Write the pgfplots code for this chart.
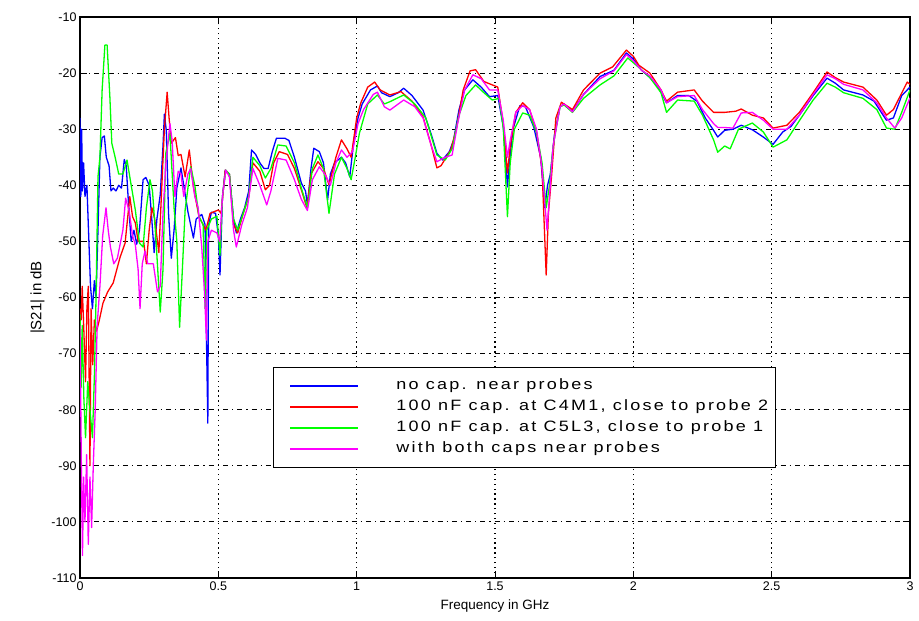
\documentclass[border=0pt]{standalone}
\usepackage{pgfplots}
\pgfplotsset{compat=1.18}
\usepackage{pgfplotstable}
\usepackage{fontspec}
\setmainfont{Liberation Sans}
\newfontfamily\legendfont[FakeStretch=1.2, LetterSpace=15]{Liberation Sans}

\definecolor{cblue}{rgb}{0,0,1}
\definecolor{cred}{rgb}{1,0,0}
\definecolor{cgreen}{rgb}{0,1,0}
\definecolor{cmagenta}{rgb}{1,0,1}

% |S21| measurements, frequency in GHz, magnitude in dB
\pgfplotstableread{
f s
0.000 -28
0.003 -42
0.006 -30
0.009 -41
0.013 -36
0.018 -42
0.025 -40
0.030 -47
0.038 -58
0.045 -62
0.052 -57
0.058 -60
0.065 -48
0.072 -35
0.080 -31.5
0.088 -31.2
0.095 -35
0.105 -36.5
0.112 -41
0.120 -40.5
0.130 -41
0.140 -40
0.150 -40.5
0.160 -35.4
0.167 -36.5
0.175 -43
0.185 -50
0.195 -48
0.205 -50.5
0.215 -48
0.228 -39
0.238 -38.6
0.250 -40
0.258 -45
0.268 -52
0.278 -46
0.290 -41.7
0.300 -33
0.305 -27.3
0.312 -30.3
0.320 -45
0.330 -53
0.340 -48
0.350 -40.5
0.365 -36.9
0.375 -40
0.390 -44.7
0.410 -49.4
0.420 -46
0.440 -45.2
0.452 -47
0.457 -67
0.462 -82.4
0.465 -47
0.475 -44.8
0.490 -45
0.500 -49
0.506 -56
0.515 -42
0.525 -37.3
0.540 -38
0.555 -46
0.565 -48.5
0.580 -46
0.595 -44
0.610 -41
0.620 -33.7
0.635 -34.5
0.650 -36
0.665 -37
0.680 -37
0.695 -34
0.710 -31.6
0.740 -31.6
0.755 -32
0.775 -35
0.800 -39.6
0.815 -41
0.822 -43.5
0.835 -37
0.845 -33.4
0.865 -34
0.880 -36
0.895 -42.6
0.905 -38
0.920 -36
0.945 -35
0.960 -36
0.975 -38.5
0.990 -32
1.005 -28
1.020 -25.5
1.050 -23
1.075 -22.3
1.090 -23.5
1.120 -24.2
1.150 -23.5
1.170 -22.7
1.200 -24
1.240 -26.6
1.270 -31
1.290 -34.3
1.310 -35.5
1.335 -34
1.350 -32
1.370 -26.5
1.390 -23
1.420 -21.2
1.450 -22.5
1.480 -24.2
1.510 -24
1.530 -29.6
1.545 -40.3
1.552 -36
1.565 -30
1.590 -25.8
1.610 -26
1.640 -29.6
1.665 -35
1.680 -44
1.690 -40
1.700 -38
1.715 -31
1.735 -26
1.750 -25.5
1.780 -26.8
1.820 -23.8
1.880 -20.6
1.930 -19.5
1.975 -16.4
2.000 -17.5
2.030 -19.5
2.060 -20.8
2.090 -22.5
2.120 -25.3
2.160 -24
2.200 -24
2.230 -25
2.260 -28
2.290 -30.2
2.305 -31.4
2.330 -30.2
2.360 -30
2.390 -29.3
2.430 -30.1
2.470 -31.4
2.505 -32.7
2.540 -30.5
2.570 -29.5
2.600 -27.5
2.650 -24
2.700 -20.9
2.730 -21.8
2.760 -23
2.830 -23.9
2.870 -25
2.900 -27.3
2.915 -28.4
2.940 -28
2.970 -24
3.000 -22.5
}\nocap

\pgfplotstableread{
f s
0.000 -62
0.004 -64
0.008 -58
0.014 -66
0.020 -75
0.025 -62
0.030 -58
0.036 -90
0.040 -62
0.046 -72
0.052 -64
0.060 -66
0.070 -64
0.083 -61
0.100 -59
0.120 -57.4
0.145 -52.8
0.163 -50.3
0.180 -42
0.190 -45.6
0.200 -46.7
0.210 -50
0.230 -50
0.240 -54
0.250 -48
0.260 -44
0.270 -46
0.285 -52
0.295 -41
0.305 -30
0.315 -23.4
0.322 -28
0.330 -32.5
0.345 -31.5
0.355 -34.7
0.365 -34.5
0.380 -38.5
0.395 -33.7
0.410 -40.3
0.430 -45.6
0.445 -47
0.455 -48
0.470 -45
0.500 -44.4
0.510 -45
0.525 -37.3
0.540 -38
0.555 -47
0.570 -48.5
0.590 -45
0.610 -42
0.625 -36
0.650 -37.5
0.670 -40.8
0.685 -40
0.700 -36
0.720 -34
0.750 -34.5
0.775 -37
0.800 -40.8
0.820 -44
0.835 -38
0.860 -35.8
0.880 -37
0.900 -39.9
0.925 -35
0.945 -31.9
0.965 -33.5
0.980 -35
1.000 -28
1.015 -25.3
1.040 -22.5
1.065 -21.6
1.085 -23
1.120 -23.9
1.160 -23.3
1.200 -25
1.240 -27.8
1.270 -33
1.290 -36.9
1.305 -36.5
1.340 -33.7
1.360 -30
1.385 -23
1.410 -19.6
1.430 -19.4
1.460 -21.5
1.490 -22.1
1.510 -22.5
1.530 -29
1.545 -37.8
1.555 -33
1.575 -27
1.600 -25.3
1.625 -26.5
1.650 -30.5
1.670 -37
1.685 -56
1.693 -45
1.705 -38
1.720 -28
1.740 -25.2
1.780 -26.5
1.820 -23
1.880 -20
1.925 -18.9
1.975 -15.9
2.000 -17
2.020 -18.6
2.060 -20
2.100 -23
2.120 -25
2.160 -23.4
2.220 -23
2.250 -25
2.290 -27
2.330 -27
2.370 -26.8
2.390 -26.4
2.430 -27.5
2.470 -28
2.505 -29.8
2.555 -29.3
2.600 -27
2.650 -23.5
2.700 -19.8
2.730 -20.8
2.760 -21.6
2.830 -22.5
2.880 -24.8
2.915 -27.5
2.940 -26.5
2.990 -21.6
3.000 -22
}\capfour

\pgfplotstableread{
f s
0.000 -63
0.004 -76
0.008 -65
0.014 -78
0.020 -85
0.028 -75
0.036 -80
0.045 -85
0.052 -74
0.058 -60
0.065 -38.5
0.072 -35
0.080 -23
0.090 -15
0.098 -15
0.108 -24.3
0.115 -32.5
0.127 -35
0.140 -38
0.155 -38
0.170 -35.5
0.180 -38.5
0.200 -44.4
0.215 -50.3
0.228 -51
0.240 -44
0.253 -39
0.262 -41
0.275 -50
0.290 -62.6
0.300 -55
0.310 -34.3
0.325 -30.7
0.340 -44
0.350 -50
0.360 -65.3
0.370 -55
0.380 -44.4
0.400 -36.7
0.415 -40
0.430 -45.6
0.445 -47
0.452 -62
0.458 -48
0.475 -46
0.495 -45.5
0.506 -52.5
0.515 -42
0.527 -37.3
0.540 -38
0.555 -46
0.570 -48
0.590 -45
0.610 -42
0.625 -35
0.650 -36.5
0.670 -38.7
0.690 -37
0.715 -32.8
0.745 -33
0.775 -36
0.800 -40.5
0.822 -44
0.840 -37
0.860 -34.6
0.880 -37
0.900 -45
0.920 -38
0.945 -35
0.965 -37
0.980 -39
0.995 -35
1.010 -30.7
1.040 -25.5
1.075 -23.9
1.100 -25.5
1.120 -25.1
1.170 -23.9
1.210 -25.5
1.250 -28
1.290 -34.6
1.320 -35.5
1.345 -33.5
1.370 -27.5
1.395 -24
1.430 -22.1
1.460 -23.5
1.490 -24.8
1.515 -24.5
1.530 -29.8
1.545 -45.6
1.555 -36
1.570 -30
1.600 -27.1
1.625 -27.5
1.650 -30.5
1.670 -36
1.685 -44
1.697 -40
1.710 -33
1.735 -26
1.750 -25.7
1.780 -27
1.820 -24.5
1.880 -22.1
1.930 -20.5
1.980 -17.3
2.020 -19
2.060 -20.8
2.100 -23.5
2.120 -27
2.160 -24.8
2.220 -25
2.250 -27.5
2.290 -31.9
2.305 -34.1
2.330 -33
2.350 -33.5
2.380 -30
2.430 -28.9
2.470 -30.5
2.505 -33.2
2.555 -31.9
2.600 -28.5
2.650 -24.8
2.700 -21.8
2.730 -22.5
2.760 -23.5
2.830 -24.5
2.880 -26.5
2.915 -29.8
2.945 -30
2.970 -27
3.000 -23
}\capfive

\pgfplotstableread{
f s
0.000 -65
0.005 -90
0.009 -106
0.013 -92
0.018 -100
0.024 -88
0.030 -104
0.036 -92
0.042 -101
0.048 -90
0.055 -80
0.062 -65
0.072 -58
0.082 -49
0.094 -44
0.102 -48
0.110 -51
0.122 -54
0.135 -53
0.155 -48
0.165 -42.3
0.178 -44.7
0.190 -49
0.200 -50.6
0.210 -55
0.217 -62
0.225 -54
0.235 -51.7
0.245 -54
0.265 -54
0.280 -59
0.290 -58
0.300 -45
0.310 -36.3
0.325 -29
0.333 -32
0.343 -42
0.355 -37.5
0.365 -38
0.375 -42
0.390 -38
0.400 -37
0.415 -42
0.427 -44
0.440 -51
0.450 -59
0.457 -67.6
0.462 -50
0.475 -48
0.495 -48.5
0.505 -50
0.515 -42
0.527 -37.3
0.540 -38.5
0.555 -48
0.565 -51
0.585 -47
0.605 -44
0.625 -37
0.650 -40
0.675 -43.5
0.690 -41
0.715 -35.2
0.745 -35.5
0.775 -39
0.800 -42.5
0.822 -44.5
0.840 -39
0.865 -36.7
0.885 -38
0.905 -40
0.925 -36
0.945 -33.7
0.965 -35
0.985 -34
1.005 -29
1.025 -26.5
1.060 -23.8
1.075 -23.4
1.100 -26
1.120 -26.6
1.170 -24.8
1.210 -26
1.240 -28
1.270 -33
1.290 -35.8
1.320 -35
1.345 -34.6
1.365 -29
1.390 -23
1.420 -20.3
1.450 -21
1.480 -23
1.510 -23
1.530 -28.5
1.545 -35
1.555 -32
1.575 -27
1.600 -25.8
1.625 -26.5
1.650 -30
1.670 -37
1.688 -48
1.697 -42
1.710 -33
1.735 -26
1.750 -25.5
1.780 -26.9
1.820 -23.8
1.880 -21
1.930 -19.6
1.975 -16.7
2.000 -17.8
2.030 -19.5
2.060 -20.5
2.100 -23
2.120 -25.3
2.160 -24.2
2.220 -24
2.250 -26.5
2.290 -29
2.305 -29.7
2.330 -29.7
2.360 -29.8
2.390 -27.1
2.430 -27
2.470 -28.4
2.505 -30
2.555 -30
2.600 -27.5
2.650 -23.8
2.700 -20.3
2.730 -21
2.760 -22
2.830 -23
2.880 -25.3
2.915 -28
2.945 -29.8
2.970 -28
3.000 -24.4
}\bothcaps

\begin{document}
\begin{tikzpicture}
\begin{axis}[
  width=830bp, height=561bp, scale only axis,
  xmin=0, xmax=3, ymin=-110, ymax=-10,
  xtick={0,0.5,1,1.5,2,2.5,3},
  ytick={-110,-100,-90,-80,-70,-60,-50,-40,-30,-20,-10},
  /pgf/number format/assume math mode=true,
  tick align=inside,
  major tick length=7bp,
  tick style={black, line width=1bp},
  axis line style={black, line width=1.3bp},
  grid=major,
  x grid style={black, line width=1.1bp, dash pattern=on 1.3bp off 3.6bp},
  y grid style={black, line width=1.1bp, dash pattern=on 5bp off 4bp on 1.3bp off 4bp},
  ticklabel style={font=\fontsize{12.5bp}{14bp}\selectfont},
  xlabel style={font=\fontsize{13.5bp}{15bp}\selectfont, yshift=-3bp},
  ylabel style={font=\fontsize{15bp}{17bp}\selectfont},
  xlabel={Frequency in GHz},
  ylabel={|S21| in dB},
  every axis plot/.append style={line width=1.3bp, line join=round},
  legend cell align=left,
  legend image code/.code={
    \draw[#1] (0bp,0bp) -- (68bp,0bp);
    \path[draw=none] (-12bp,0bp) -- (104bp,0bp);
  },
  legend style={
    at={(0.2325,0.376)}, anchor=north west,
    draw=black, line width=1bp, fill=white,
    font=\legendfont\fontsize{15bp}{16bp}\selectfont,
    inner xsep=5bp, inner ysep=8bp,
    row sep=0pt,
    nodes={text height=10bp, text depth=3bp, inner ysep=4bp, inner xsep=2bp},
  },
]
\addplot[cblue]    table[x=f, y=s] {\nocap};
\addlegendentry{no cap. near probes}
\addplot[cred]     table[x=f, y=s] {\capfour};
\addlegendentry{100 nF cap. at C4M1, close to probe 2}
\addplot[cgreen]   table[x=f, y=s] {\capfive};
\addlegendentry{100 nF cap. at C5L3, close to probe 1}
\addplot[cmagenta] table[x=f, y=s] {\bothcaps};
\addlegendentry{with both caps near probes}
\end{axis}
\path ([xshift=-80bp,yshift=-43bp]current axis.south west)
      ([xshift=9bp,yshift=17bp]current axis.north east);
\end{tikzpicture}
\end{document}
